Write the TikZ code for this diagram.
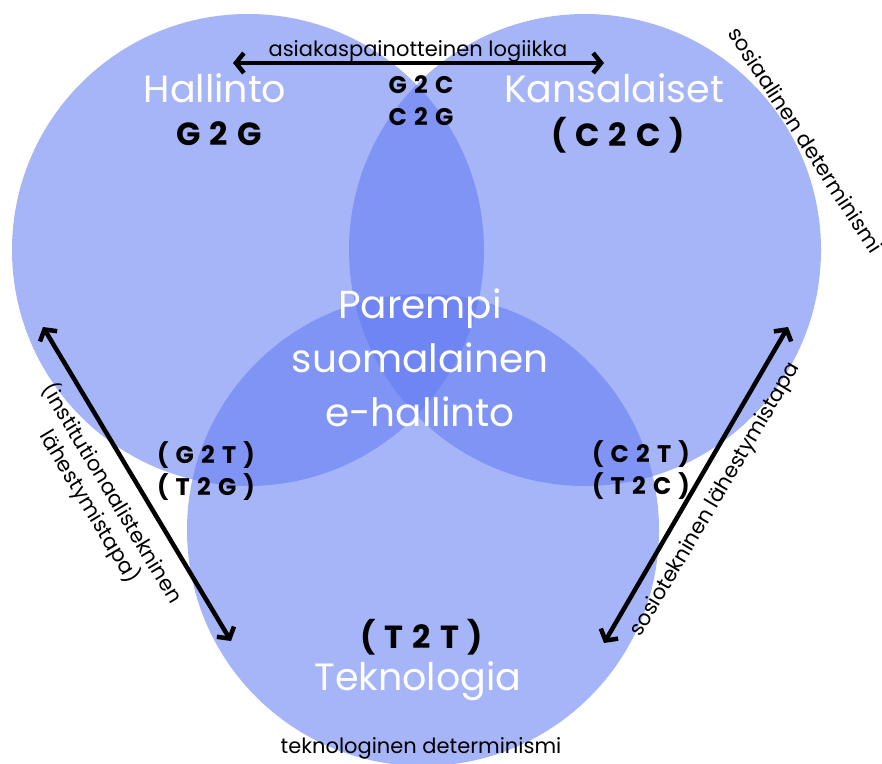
\documentclass[tikz,border=0pt]{standalone}
\usepackage{fontspec}
\setmainfont{Poppins}
\newfontfamily\codefont[LetterSpace=30]{Poppins}
\newfontfamily\codefontbig[LetterSpace=28]{Poppins}
\usetikzlibrary{arrows.meta}
\definecolor{circblue}{RGB}{97,122,242}
\tikzset{
  venn/.style={fill=circblue, fill opacity=0.56},
  biglab/.style={text=white, font=\fontsize{38}{44}\selectfont, inner sep=0, anchor=base},
  midlab/.style={text=white, font=\fontsize{39}{54}\selectfont, align=center, inner sep=0},
  codebig/.style={text=black, font=\codefontbig\bfseries\fontsize{32}{36}\selectfont, inner sep=0, anchor=base},
  codesmall/.style={text=black, font=\codefont\bfseries\fontsize{24}{32}\selectfont, inner sep=0, align=center},
  smalllab/.style={text=black, font=\fontsize{21}{26}\selectfont, inner sep=0, align=center},
  barb/.tip={Straight Barb[length=8pt,width=20pt,line width=4.5pt]},
  dblarrow/.style={line width=4.5pt, barb-barb}
}
\begin{document}
\begin{tikzpicture}[x=1pt,y=-1pt]
\useasboundingbox (0,0) rectangle (882,763);
% circles
\fill[venn] (248,250) circle (236pt);
\fill[venn] (585,250) circle (236pt);
\fill[venn] (423,530) circle (236pt);
% white labels
\node[biglab] (hal) at (215,102) {Hallinto};
\node[biglab] (kan) at (614,102) {Kansalaiset};
\node[midlab] (mid) at (420,358) {Parempi\\suomalainen\\e-hallinto};
\node[biglab] (tek) at (418,690) {Teknologia};
% code labels
\node[codebig] (g2g) at (219,145) {G2G};
\node[codebig] (c2c) at (618,146) {(C2C)};
\node[codebig] (t2t) at (422,648) {(T2T)};
\node[codesmall] (g2c) at (421,101) {G2C\\C2G};
\node[codesmall] (g2t) at (206,471) {(G2T)\\(T2G)};
\node[codesmall] (c2t) at (641,470) {(C2T)\\(T2C)};
% small labels
\node[smalllab, anchor=base] (asia) at (418,56) {asiakaspainotteinen logiikka};
\node[smalllab, anchor=base] (tekdet) at (421,753) {teknologinen determinismi};
\node[smalllab, rotate=-57] (sosdet) at (806,140) {sosiaalinen determinismi};
\node[smalllab, rotate=-59] (inst) at (101,500) {(institutionaalistekninen\\lähestymistapa)};
\node[smalllab, rotate=59.5] (sosio) at (716,500) {sosiotekninen lähestymistapa};
% arrows
\coordinate (ha) at (233,63);
\coordinate (hb) at (604,63);
\coordinate (la) at (43,327);
\coordinate (lb) at (231,641);
\coordinate (ra) at (788,327);
\coordinate (rb) at (604,643);
\draw[dblarrow] (ha) -- (hb);
\draw[dblarrow] (la) -- (lb);
\draw[dblarrow] (ra) -- (rb);
\end{tikzpicture}
\end{document}
